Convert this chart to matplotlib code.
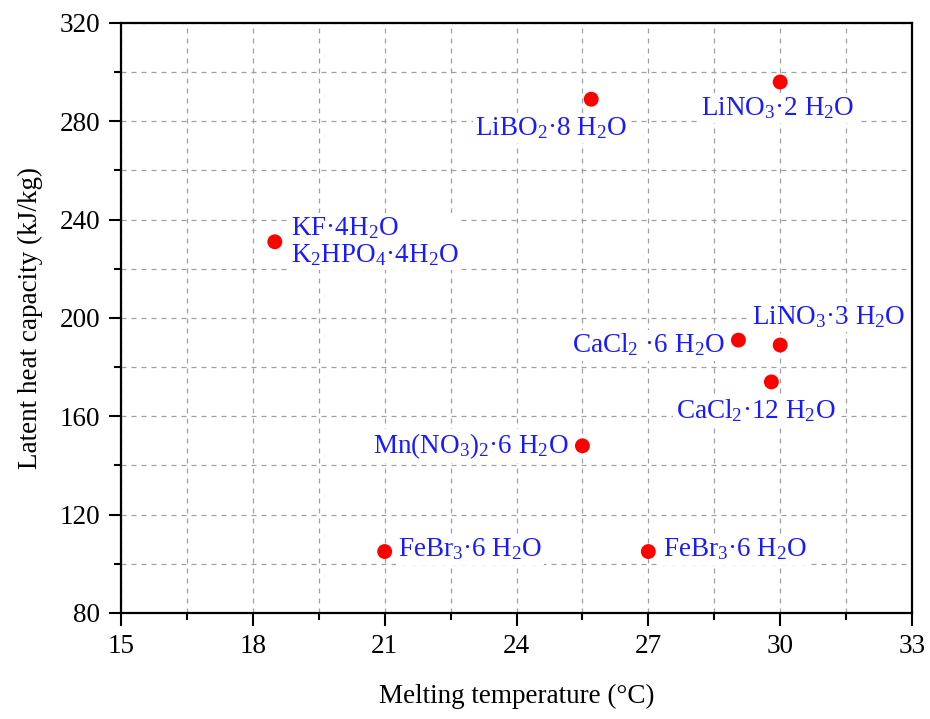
import matplotlib.pyplot as plt
from matplotlib.ticker import MultipleLocator

plt.rcParams['font.family'] = ['Liberation Serif', 'DejaVu Serif']
plt.rcParams['mathtext.fontset'] = 'custom'
plt.rcParams['mathtext.rm'] = 'Liberation Serif'
plt.rcParams['mathtext.it'] = 'Liberation Serif:italic'

# melting temperature (°C) and latent heat (kJ/kg)
names = [r'KF·4H$_2$O' + '\n' + r'K$_2$HPO$_4$·4H$_2$O',
         r'LiBO$_2$·8 H$_2$O',
         r'LiNO$_3$·2 H$_2$O',
         r'LiNO$_3$·3 H$_2$O',
         r'CaCl$_2$ ·6 H$_2$O',
         r'CaCl$_2$·12 H$_2$O',
         r'Mn(NO$_3$)$_2$·6 H$_2$O',
         r'FeBr$_3$·6 H$_2$O',
         r'FeBr$_3$·6 H$_2$O']
temps = [18.5, 25.7, 30.0, 30.0, 29.05, 29.8, 25.5, 21.0, 27.0]
heats = [231, 289, 296, 189, 191, 174, 148, 105, 105]

# label offsets in pixels and alignment
offsets = [(16, 0, 'left'), (36, -29, 'right'), (-2, -26, 'center'),
           (49, 28, 'center'), (-14, -5, 'right'), (-16, -29, 'center'),
           (-14, 0, 'right'), (13, 2, 'left'), (15, 2, 'left')]

fs = 19.5

fig = plt.figure(figsize=(9.3, 7.19), dpi=100)
ax = fig.add_axes([121/930, 1-613/719, (912-121)/930, (613-23)/719])

ax.scatter(temps, heats, s=115, color='#ff0000', zorder=3, edgecolors='none')

for n, x, y, (dx, dy, ha) in zip(names, temps, heats, offsets):
    ax.annotate(n, (x, y), xytext=(dx, dy), textcoords='offset pixels',
                ha=ha, va='center', fontsize=fs, color='#1a1aff', zorder=4,
                linespacing=1.05,
                bbox=dict(facecolor='white', edgecolor='none', pad=1.5))

ax.set_xlim(15, 33)
ax.set_ylim(80, 320)
ax.xaxis.set_major_locator(MultipleLocator(3))
ax.xaxis.set_minor_locator(MultipleLocator(1.5))
ax.yaxis.set_major_locator(MultipleLocator(40))
ax.yaxis.set_minor_locator(MultipleLocator(20))
ax.grid(True, which='both', linestyle=(0, (4, 4)), color='#a0a0a0', linewidth=0.9)
ax.set_axisbelow(True)

ax.tick_params(which='major', direction='out', length=9, width=1.5, labelsize=fs, pad=6)
ax.tick_params(which='minor', direction='out', length=5, width=1.5)
ax.tick_params(top=False, right=False, which='both')
for s in ax.spines.values():
    s.set_linewidth(1.6)

ax.set_xlabel('Melting temperature (°C)', fontsize=fs, labelpad=18)
ax.set_ylabel('Latent heat capacity (kJ/kg)', fontsize=fs, labelpad=12)

fig.savefig('out.png', dpi=100)
